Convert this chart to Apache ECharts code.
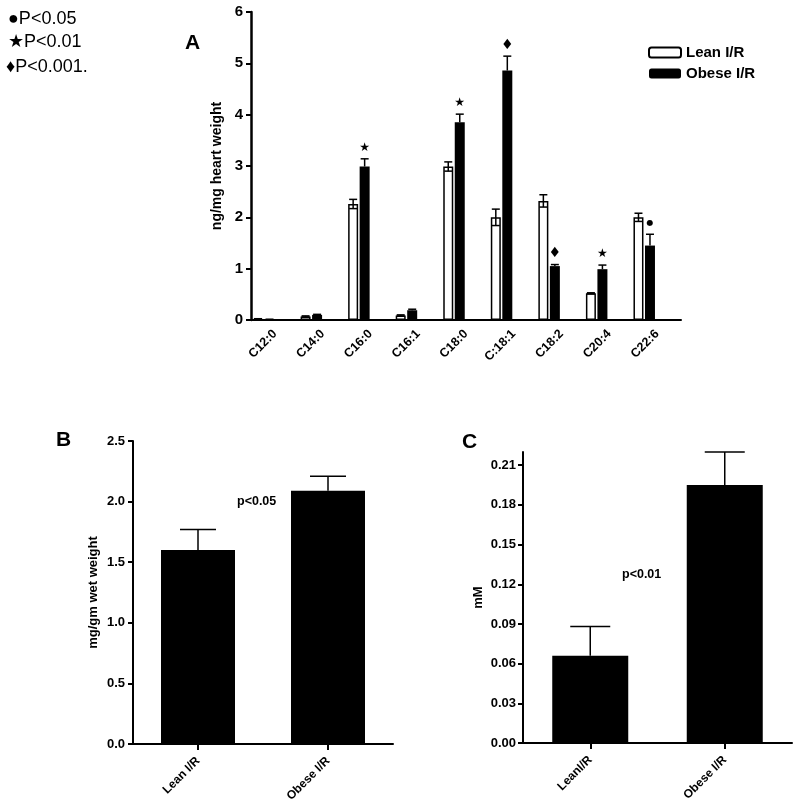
<!DOCTYPE html>
<html>
<head>
<meta charset="utf-8">
<script src="https://cdn.jsdelivr.net/npm/echarts@6/dist/echarts.min.js"></script>
<style>html,body{margin:0;padding:0;background:#fff}#c{width:800px;height:810px}</style>
</head>
<body>
<div id="c"></div>
<script>
const catsA = ['C12:0','C14:0','C16:0','C16:1','C18:0','C:18:1','C18:2','C20:4','C22:6'];
const leanA = [0.02,0.07,2.26,0.09,2.99,2.00,2.32,0.52,2.00];
const leanErrA = [0.005,0.01,0.09,0.01,0.09,0.16,0.12,0.01,0.08];
const obeseA = [0.01,0.10,2.99,0.19,3.85,4.86,1.05,0.99,1.45];
const obeseErrA = [0.005,0.01,0.15,0.02,0.16,0.28,0.03,0.08,0.22];
const sigA = ['','','★','','★','♦','♦','★','●'];
const ticksA = [0,1,2,3,4,5,6];

const catsB = ['Lean I/R','Obese I/R'];
const valsB = [1.60, 2.09];
const errB = [0.17, 0.12];
const ticksB = [0,0.5,1.0,1.5,2.0,2.5];

const catsC = ['LeanI/R','Obese I/R'];
const valsC = [0.066, 0.195];
const errC = [0.022, 0.025];
const ticksC = [0,0.03,0.06,0.09,0.12,0.15,0.18,0.21];

const sigLegend = ['●P<0.05','★P<0.01','♦P<0.001.'];

const FONT = '"Liberation Sans", Arial, sans-serif';
const SYM_SIZE = {'★':12, '♦':14, '●':8};
const chart = echarts.init(document.getElementById('c'), null, {renderer:'canvas'});

function errRender(vals, errs, offset, capHalf, both, sym) {
  return function (params, api) {
    const i = params.dataIndex;
    const v = vals[i], e = errs[i];
    const base = api.coord([i, v]);
    const x = base[0] + offset;
    const top = api.coord([i, v + e])[1];
    const bot = both ? api.coord([i, v - e])[1] : base[1];
    const st = {stroke:'#000', lineWidth:1.5};
    const ch = [
      {type:'line', shape:{x1:x,y1:top,x2:x,y2:bot}, style:st},
      {type:'line', shape:{x1:x-capHalf,y1:top,x2:x+capHalf,y2:top}, style:st}
    ];
    if (both) ch.push({type:'line', shape:{x1:x-capHalf,y1:bot,x2:x+capHalf,y2:bot}, style:st});
    if (sym && sym[i]) ch.push({type:'text', style:{text:sym[i], x:x, y:top-11, align:'center', verticalAlign:'middle',
      font:SYM_SIZE[sym[i]] + 'px "DejaVu Sans", sans-serif', fill:'#000'}});
    return {type:'group', children:ch};
  };
}

const axisLineStyle = {lineStyle:{color:'#000', width:2}};
const labelBold = (size) => ({color:'#000', fontWeight:'bold', fontSize:size, fontFamily:FONT});

const BW = 10, GAP = 1.5;
const off = (BW + GAP) / 2;

const option = {
  animation: false,
  backgroundColor: '#fff',
  legend: {
    data: ['Lean I/R','Obese I/R'],
    orient: 'vertical', left: 648, top: 45, padding: 0,
    itemWidth: 32, itemHeight: 10, itemGap: 6,
    textStyle: {color:'#000', fontWeight:'bold', fontSize:15, fontFamily:FONT}
  },
  grid: [
    {left:240, top:12, width:428, height:308},
    {left:251, top:12, width:430, height:308},
    {left:133, top:441, width:260, height:303},
    {left:523, top:452, width:269, height:291}
  ],
  xAxis: [
    {gridIndex:0, type:'category', data:catsA, show:false},
    {gridIndex:1, type:'category', data:catsA, axisLine:axisLineStyle, axisTick:{show:false},
     axisLabel:Object.assign({rotate:45, margin:12, interval:0}, labelBold(12.5))},
    {gridIndex:2, type:'category', data:catsB, axisLine:axisLineStyle,
     axisTick:{show:true, alignWithLabel:true, length:6, lineStyle:{color:'#000', width:2}},
     axisLabel:Object.assign({rotate:45, margin:15, interval:0}, labelBold(12))},
    {gridIndex:3, type:'category', data:catsC, axisLine:axisLineStyle,
     axisTick:{show:true, alignWithLabel:true, length:6, lineStyle:{color:'#000', width:2}},
     axisLabel:Object.assign({rotate:45, margin:15, interval:0}, labelBold(12))}
  ],
  yAxis: [
    {gridIndex:0, type:'value', min:0, max:6, show:false},
    {gridIndex:1, type:'value', min:0, max:6, interval:1, splitLine:{show:false},
     axisLine:{show:true, lineStyle:{color:'#000', width:2.5}},
     axisTick:{show:true, length:5, lineStyle:{color:'#000', width:2}},
     axisLabel:Object.assign({margin:8}, labelBold(15)),
     name:'ng/mg heart weight', nameLocation:'middle', nameGap:26,
     nameTextStyle:labelBold(14)},
    {gridIndex:2, type:'value', min:0, max:2.5, interval:0.5, splitLine:{show:false},
     axisLine:{show:true, lineStyle:{color:'#000', width:2}},
     axisTick:{show:true, length:5, lineStyle:{color:'#000', width:2}},
     axisLabel:Object.assign({margin:8, formatter:v=>v.toFixed(1)}, labelBold(13)),
     name:'mg/gm wet weight', nameLocation:'middle', nameGap:33,
     nameTextStyle:labelBold(13)},
    {gridIndex:3, type:'value', min:0, max:0.22, splitLine:{show:false},
     axisLine:{show:true, lineStyle:{color:'#000', width:2}},
     axisTick:{show:true, length:5, customValues:ticksC, lineStyle:{color:'#000', width:2}},
     axisLabel:Object.assign({margin:7, customValues:ticksC, formatter:v=>v.toFixed(2)}, labelBold(13)),
     name:'mM', nameLocation:'middle', nameGap:38,
     nameTextStyle:labelBold(13)}
  ],
  series: [
    {name:'Lean I/R', type:'bar', xAxisIndex:0, yAxisIndex:0, data:leanA, barWidth:BW, barGap:'15%',
     itemStyle:{color:'#fff', borderColor:'#000', borderWidth:1.5}},
    {name:'Obese I/R', type:'bar', xAxisIndex:0, yAxisIndex:0, data:obeseA, barWidth:BW, barGap:'15%',
     itemStyle:{color:'#000', borderColor:'#000', borderWidth:0}},
    {type:'custom', xAxisIndex:0, yAxisIndex:0, z:5, data:leanA.map((v,i)=>[i,v]),
     encode:{x:0,y:1}, renderItem:errRender(leanA, leanErrA, -off, 4, true, null)},
    {type:'custom', xAxisIndex:0, yAxisIndex:0, z:5, data:obeseA.map((v,i)=>[i,v]),
     encode:{x:0,y:1}, renderItem:errRender(obeseA, obeseErrA, off, 4, false, sigA)},
    {type:'bar', xAxisIndex:2, yAxisIndex:2, data:valsB, barWidth:74, itemStyle:{color:'#000'}},
    {type:'custom', xAxisIndex:2, yAxisIndex:2, z:5, data:valsB.map((v,i)=>[i,v]),
     encode:{x:0,y:1}, renderItem:errRender(valsB, errB, 0, 18, false, null)},
    {type:'bar', xAxisIndex:3, yAxisIndex:3, data:valsC, barWidth:76, itemStyle:{color:'#000'}},
    {type:'custom', xAxisIndex:3, yAxisIndex:3, z:5, data:valsC.map((v,i)=>[i,v]),
     encode:{x:0,y:1}, renderItem:errRender(valsC, errC, 0, 20, false, null)}
  ],
  graphic: [
    {type:'text', left:8, top:10, style:{text:sigLegend[0], font:'18px "Liberation Sans", Arial, sans-serif', fill:'#000'}},
    {type:'text', left:8, top:33, style:{text:sigLegend[1], font:'18px "Liberation Sans", Arial, sans-serif', fill:'#000'}},
    {type:'text', left:6, top:58, style:{text:sigLegend[2], font:'18px "Liberation Sans", Arial, sans-serif', fill:'#000'}},
    {type:'text', left:185, top:33, style:{text:'A', font:'bold 21px "Liberation Sans", Arial, sans-serif', fill:'#000'}},
    {type:'text', left:56, top:430, style:{text:'B', font:'bold 21px "Liberation Sans", Arial, sans-serif', fill:'#000'}},
    {type:'text', left:462, top:432, style:{text:'C', font:'bold 21px "Liberation Sans", Arial, sans-serif', fill:'#000'}},
    {type:'text', left:237, top:495, style:{text:'p<0.05', font:'bold 12.5px "Liberation Sans", Arial, sans-serif', fill:'#000'}},
    {type:'text', left:622, top:568, style:{text:'p<0.01', font:'bold 12.5px "Liberation Sans", Arial, sans-serif', fill:'#000'}}
  ]
};
chart.setOption(option);
</script>
</body>
</html>
